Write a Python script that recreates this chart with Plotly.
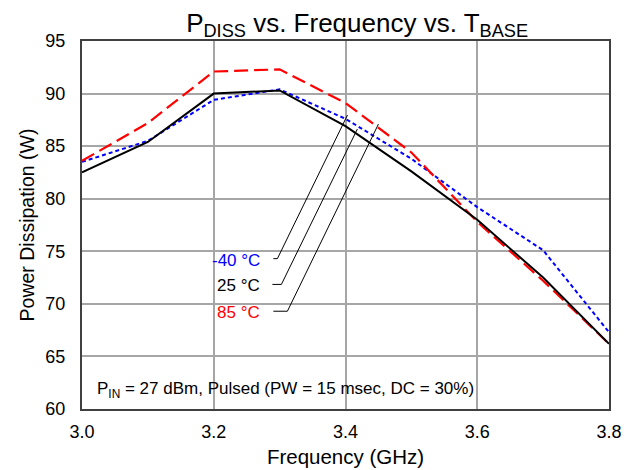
import plotly.graph_objects as go

freq = [3.0, 3.1, 3.2, 3.3, 3.4, 3.5, 3.6, 3.7, 3.8]
p_m40 = [83.5, 85.5, 89.4, 90.4, 87.6, 83.8, 79.2, 75.1, 67.3]
p_25 = [82.5, 85.4, 90.0, 90.3, 86.9, 82.6, 78.0, 72.5, 66.2]
p_85 = [83.6, 87.2, 92.1, 92.3, 89.1, 84.4, 77.8, 72.2, 66.2]
series_names = ["-40 °C", "25 °C", "85 °C"]
colors = ["#0000FF", "#000000", "#FF0000"]

fig = go.Figure()
fig.add_trace(go.Scatter(x=freq, y=p_m40, mode="lines", name=series_names[0],
                         line=dict(color=colors[0], width=2, dash="4px,3px")))
fig.add_trace(go.Scatter(x=freq, y=p_85, mode="lines", name=series_names[2],
                         line=dict(color=colors[2], width=2.2, dash="14px,6px")))
fig.add_trace(go.Scatter(x=freq, y=p_25, mode="lines", name=series_names[1],
                         line=dict(color=colors[1], width=2)))

# callout labels and leader lines
label_y = [74.3, 71.85, 69.3]
leader = [
    (3.2905, 3.2966, 3.403, 87.96),
    (3.289, 3.3027, 3.418, 86.63),
    (3.2905, 3.3118, 3.450, 87.10),
]
for i in range(3):
    fig.add_annotation(x=3.2738, y=label_y[i] - 0.15, xref="x", yref="y", text=series_names[i],
                       showarrow=False, xanchor="right", yanchor="middle",
                       font=dict(size=17, color=colors[i]))
    x0, x1, x2, y2 = leader[i]
    fig.add_shape(type="path", xref="x", yref="y",
                  path=f"M {x0},{label_y[i]} L {x1},{label_y[i]} L {x2},{y2}",
                  line=dict(color="black", width=1))

fig.add_annotation(x=3.0198, y=61.85, xref="x", yref="y",
                   text="P<sub>IN</sub> = 27 dBm, Pulsed (PW = 15 msec, DC = 30%)",
                   showarrow=False, xanchor="left", yanchor="middle",
                   font=dict(size=17, color="black"))

fig.update_layout(
    width=629, height=462,
    margin=dict(l=74, r=28, t=33, b=61),
    paper_bgcolor="white", plot_bgcolor="white",
    font=dict(family="Liberation Sans, Arial", color="black"),
    showlegend=False,
    title=dict(text="P<sub>DISS</sub> vs. Frequency vs. T<sub>BASE</sub>",
               x=0.555, xanchor="center", y=0.968, yanchor="middle",
               font=dict(size=26, color="black")),
    xaxis=dict(range=[3.0, 3.8], dtick=0.2, tickformat=".1f", automargin=False,
               showgrid=True, gridcolor="#A6A6A6", gridwidth=1.5,
               showline=True, linecolor="#404040", linewidth=2, mirror=True,
               ticks="", tickfont=dict(size=18), ticklabelstandoff=5,
               title=dict(text="Frequency (GHz)", font=dict(size=20.5), standoff=9),
               zeroline=False),
    yaxis=dict(range=[60, 95], dtick=5, automargin=False,
               showgrid=True, gridcolor="#A6A6A6", gridwidth=1.5,
               showline=True, linecolor="#404040", linewidth=2, mirror=True,
               ticks="", tickfont=dict(size=18), ticklabelstandoff=11,
               title=dict(text="Power Dissipation (W)", font=dict(size=19.5), standoff=6),
               zeroline=False),
)

fig.write_html("out.html")
